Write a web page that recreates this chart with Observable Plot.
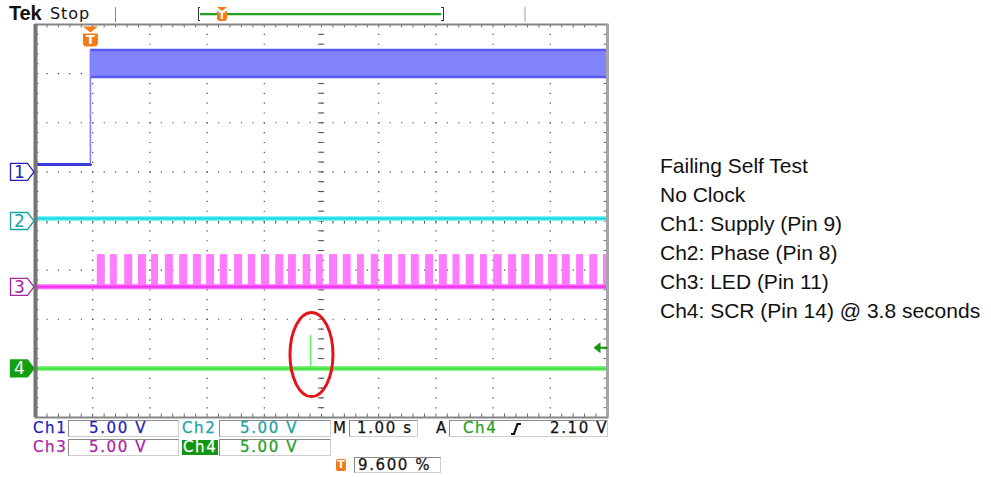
<!DOCTYPE html>
<html><head><meta charset="utf-8">
<script src="https://cdn.jsdelivr.net/npm/d3@7"></script>
<script src="https://cdn.jsdelivr.net/npm/@observablehq/plot@0.6"></script>
<style>
body{margin:0;background:#fff;}
#wrap{position:relative;width:991px;height:477px;overflow:hidden;background:#fff;}
#wrap > svg{position:absolute;left:0;top:0;}
.t{position:absolute;white-space:nowrap;font-family:"DejaVu Sans",sans-serif;}
.ro{font-size:15px;letter-spacing:1.6px;-webkit-text-stroke:0.25px currentColor;}
.box{position:absolute;box-sizing:border-box;border-top:1px solid #8a8a8a;border-left:1px solid #8a8a8a;border-bottom:1px solid #cdcdcd;border-right:1px solid #cdcdcd;}
.note{position:absolute;left:660px;font-family:"Liberation Sans",Arial,sans-serif;font-size:21px;color:#111;white-space:nowrap;line-height:28.8px;}
</style></head><body><div id="wrap"></div>
<script>
// ---------- data ----------
const voltsPerDiv = 5;          // all four channels
const secondsPerDiv = 1.00;
const triggerPercent = 9.6;     // trigger position in record
const triggerLevelV = 2.10;     // Ch4, rising
const channelNames = ["1", "2", "3", "4"];
const channelOffsetDiv = [1.0, 0, -1.34, -3.0];   // ground markers, in divisions from centre
const channelColors = ["#2222b4", "#1aa2a2", "#a824a8", "#12a012"];

// Ch1 supply: low before the step, noisy band after
const ch1StepTime = 0.96;       // s from left edge
const ch1LowV = 0.75;
const ch1HighMinV = 9.65;
const ch1HighMaxV = 12.4;
// Ch2 phase: flat
const ch2LevelV = 0.25;
// Ch3 LED pulse train
const ch3BaseV = 0;
const ch3HighV = 3.28;
const ch3PulseStart = [1.08,1.31,1.56,1.80,2.03,2.27,2.52,2.76,2.99,3.23,3.48,3.72,3.95,4.20,4.42,4.68,4.91,5.14,5.38,5.63,5.87,6.10,6.35,6.57,6.82,7.06,7.30,7.53,7.78,8.01,8.27,8.50,8.74,8.97,9.21,9.46,9.69,9.93];
const ch3PulseEnd   = [1.22,1.43,1.70,1.94,2.15,2.41,2.66,2.90,3.13,3.36,3.62,3.85,4.09,4.34,4.56,4.81,5.03,5.28,5.52,5.75,6.00,6.24,6.47,6.71,6.96,7.20,7.42,7.67,7.90,8.16,8.41,8.64,8.88,9.13,9.35,9.58,9.83,10.0];
// Ch4 SCR: flat with one short spike
const ch4BaseV = 0;
const ch4SpikeTime = 4.81;
const ch4SpikeV = 3.35;
// highlight ellipse round the spike (centre in s / divisions)
const highlightCenter = [4.825, -2.72];

// readout texts
const readoutScale = ["5.00 V", "5.00 V", "5.00 V", "5.00 V"];
const readoutTime = "1.00 s";
const readoutTrigger = ["Ch4", "2.10 V"];
const readoutTrigPos = "9.600 %";
const noteLines = ["Failing Self Test", "No Clock", "Ch1: Supply (Pin 9)", "Ch2: Phase (Pin 8)", "Ch3: LED (Pin 11)", "Ch4: SCR (Pin 14) @ 3.8 seconds"];

// ---------- helpers ----------
const yd = (ch, v) => channelOffsetDiv[ch] + v / voltsPerDiv;
const xMinor = d3.range(0, 10.0001, 0.2);
const yMinor = d3.range(-4, 4.0001, 0.2);
const W = 991, H = 477, mL = 35, mR = 384, mT = 24, mB = 60;
const pxX = (W - mL - mR) / 10 / 5, pxY = (H - mT - mB) / 8 / 5;

const tagSymbol = {draw(c){ c.moveTo(-25,-8.5); c.lineTo(-8,-8.5); c.lineTo(-1.5,0); c.lineTo(-8,8.5); c.lineTo(-25,8.5); c.closePath(); }};
const trigSymbol = {draw(c){ c.moveTo(-7.5,2); c.lineTo(7.5,2); c.lineTo(0,8); c.closePath();
  c.moveTo(-7.5,9); c.lineTo(7.5,9); c.lineTo(7.5,18); c.quadraticCurveTo(7.5,22,3.5,22); c.lineTo(-3.5,22); c.quadraticCurveTo(-7.5,22,-7.5,18); c.closePath(); }};
const levelSymbol = {draw(c){ c.moveTo(-14,0); c.lineTo(-7,-5.5); c.lineTo(-7,5.5); c.closePath(); c.moveTo(-7,-1); c.lineTo(0,-1); c.lineTo(0,1); c.lineTo(-7,1); c.closePath(); }};
const ellipseSymbol = (rx, ry) => ({draw(c){ const k = 0.5523;
  c.moveTo(rx,0); c.bezierCurveTo(rx,ry*k,rx*k,ry,0,ry); c.bezierCurveTo(-rx*k,ry,-rx,ry*k,-rx,0);
  c.bezierCurveTo(-rx,-ry*k,-rx*k,-ry,0,-ry); c.bezierCurveTo(rx*k,-ry,rx,-ry*k,rx,0); c.closePath(); }});

const pulses = ch3PulseStart.map((s, i) => ({t1: s, t2: ch3PulseEnd[i]}));
const ch1Band = [{t1: ch1StepTime, t2: 10, lo: yd(0, ch1HighMinV), hi: yd(0, ch1HighMaxV)}];
const trigTime = triggerPercent / 100 * 10 * secondsPerDiv;

const tagMarks = channelNames.flatMap((n, i) => [
  Plot.dot([0], {x: () => 0, y: () => channelOffsetDiv[i], symbol: tagSymbol,
    fill: i === 3 ? channelColors[i] : "white", stroke: channelColors[i], strokeWidth: 1.3}),
  Plot.text([n], {x: () => 0, y: () => channelOffsetDiv[i], text: d => d, dx: -16, dy: 0.5,
    fill: i === 3 ? "white" : channelColors[i], fontSize: 17, fontFamily: "DejaVu Sans"})
]);

const plot = Plot.plot({
  width: W, height: H, marginLeft: mL, marginRight: mR, marginTop: mT, marginBottom: mB,
  x: {domain: [0, 10], axis: null},
  y: {domain: [-4, 4], axis: null},
  style: {background: "transparent", overflow: "visible"},
  marks: [
    // graticule dots
    Plot.ruleX(d3.range(1, 10), {x: d => d, stroke: "#444", strokeWidth: 1.2, strokeDasharray: `1.2 ${pxY - 1.2}`}),
    Plot.ruleY(d3.range(-3, 4), {y: d => d, stroke: "#444", strokeWidth: 1.2, strokeDasharray: `1.2 ${pxX - 1.2}`}),
    // centre crosshair ticks
    Plot.ruleY(yMinor, {y: d => d, x1: 5 - 0.055, x2: 5 + 0.055, stroke: "#555", strokeWidth: 1}),
    Plot.ruleX(xMinor, {x: d => d, y1: -0.065, y2: 0.065, stroke: "#555", strokeWidth: 1}),
    // border ticks
    Plot.ruleX(xMinor, {x: d => d, y1: 4, y2: 3.93, stroke: "#666", strokeWidth: 1}),
    Plot.ruleX(xMinor, {x: d => d, y1: -4, y2: -3.93, stroke: "#666", strokeWidth: 1}),
    Plot.ruleY(yMinor, {y: d => d, x1: 0, x2: 0.06, stroke: "#666", strokeWidth: 1}),
    Plot.ruleY(yMinor, {y: d => d, x1: 10, x2: 9.94, stroke: "#666", strokeWidth: 1}),
    // Ch2
    Plot.ruleY([yd(1, ch2LevelV)], {y: d => d, stroke: "#7ef2f6", strokeWidth: 5}),
    Plot.ruleY([yd(1, ch2LevelV)], {y: d => d, stroke: "#14d6de", strokeWidth: 2}),
    // Ch3
    Plot.rect(pulses, {x1: "t1", x2: "t2", y1: () => yd(2, ch3BaseV), y2: () => yd(2, ch3HighV), fill: "#ff7cff", clip: true}),
    Plot.ruleY([yd(2, ch3BaseV)], {y: d => d, stroke: "#ff6cff", strokeWidth: 5}),
    Plot.ruleY([yd(2, ch3BaseV)], {y: d => d, stroke: "#f032f0", strokeWidth: 2}),
    // Ch4
    Plot.ruleY([yd(3, ch4BaseV)], {y: d => d, stroke: "#80f280", strokeWidth: 5}),
    Plot.ruleY([yd(3, ch4BaseV)], {y: d => d, stroke: "#3ee03e", strokeWidth: 2}),
    Plot.ruleX([ch4SpikeTime], {x: d => d, y1: yd(3, ch4BaseV), y2: yd(3, ch4SpikeV), stroke: "#5cf55c", strokeWidth: 1.3}),
    // Ch1
    Plot.rect(ch1Band, {x1: "t1", x2: "t2", y1: "lo", y2: "hi", fill: "#8383fb"}),
    Plot.ruleY([ch1Band[0].hi, ch1Band[0].lo], {y: d => d, x1: ch1StepTime, x2: 10, stroke: "#5858f4", strokeWidth: 2.5}),
    Plot.line([[0, yd(0, ch1LowV)], [ch1StepTime, yd(0, ch1LowV)]], {stroke: "#3a3ad8", strokeWidth: 3}),
    Plot.ruleX([ch1StepTime], {x: d => d, y1: yd(0, ch1LowV), y2: ch1Band[0].hi, stroke: "#7c7cff", strokeWidth: 1.5}),
    // frame
    Plot.frame({stroke: "#858585", strokeWidth: 2}),
    Plot.ruleX([0], {x: d => d, stroke: "#747474", strokeWidth: 4}),
    Plot.ruleX([10], {x: d => d, stroke: "#a6a6a6", strokeWidth: 3}),
    // channel ground markers
    ...tagMarks,
    // trigger position marker
    Plot.dot([trigTime], {x: d => d, y: () => 4, symbol: trigSymbol, fill: "#f47b16", stroke: "none"}),
    Plot.text(["T"], {x: () => trigTime, y: () => 4, text: d => d, dy: 15.5, fill: "white", fontWeight: "bold", fontSize: 13, fontFamily: "DejaVu Sans"}),
    // trigger level marker
    Plot.dot([triggerLevelV], {x: () => 10, y: d => yd(3, d), symbol: levelSymbol, fill: "#129812", stroke: "none"}),
    // highlight ellipse
    Plot.dot([highlightCenter], {x: d => d[0], y: d => d[1], symbol: ellipseSymbol(21.5, 42), fill: "none", stroke: "#e4141a", strokeWidth: 3})
  ]
});
const wrap = document.getElementById("wrap");
wrap.appendChild(plot);

// ---------- HTML readouts ----------
function el(css, text, cls) {
  const e = document.createElement("div");
  if (cls) e.className = cls;
  Object.assign(e.style, css);
  if (text != null) e.textContent = text;
  wrap.appendChild(e); return e;
}
const px = v => v + "px";
// top status bar
el({left: px(9), top: px(3), fontFamily: "'Liberation Sans',Arial,sans-serif", fontWeight: "bold", fontSize: "20px", lineHeight: "20px", color: "#111", letterSpacing: "-0.2px"}, "Tek", "t");
el({left: px(50), top: px(6), fontSize: "16px", lineHeight: "16px", color: "#111", letterSpacing: "0.9px"}, "Stop", "t");
el({position: "absolute", left: px(115), top: px(7), width: "1px", height: px(15), background: "#8a8a8a"});
el({position: "absolute", left: px(524), top: px(7), width: "2px", height: px(15), background: "#cfcfcf"});
// record bar
el({position: "absolute", left: px(198), top: px(7), width: px(2), height: px(14), borderLeft: "1.5px solid #333", borderTop: "1px solid #333", borderBottom: "1px solid #333", boxSizing: "border-box"});
el({position: "absolute", left: px(441), top: px(7), width: px(3), height: px(14), borderRight: "1.5px solid #333", borderTop: "1px solid #333", borderBottom: "1px solid #333", boxSizing: "border-box"});
el({position: "absolute", left: px(200), top: px(13), width: px(241), height: px(2), background: "#22a622"});
el({position: "absolute", left: px(200), top: px(15), width: px(241), height: px(1), background: "#bfe6bf"});
// small trigger icon in record bar
el({position: "absolute", left: px(217), top: px(7), width: 0, height: 0, borderLeft: "5px solid transparent", borderRight: "5px solid transparent", borderTop: "4px solid #f47b16"});
el({position: "absolute", left: px(217), top: px(11), width: px(10), height: px(10), background: "#f47b16", borderRadius: "0 0 3px 3px", color: "white", fontFamily: "DejaVu Sans", fontWeight: "bold", fontSize: "10px", lineHeight: "10px", textAlign: "center"}, "T");

// bottom readouts
const row1 = 420, row2 = 439, rh = 17;
function label(x, y, text, color, extra) { el(Object.assign({left: px(x), top: px(y), lineHeight: px(rh), color}, extra || {}), text, "t ro"); }
function box(x, y, w, h) { el({left: px(x), top: px(y), width: px(w), height: px(h)}, null, "box"); }
box(68, row1, 111, rh); box(219, row1, 112, rh); box(349, row1, 69, rh); box(449, row1, 159, rh);
box(68, row2, 111, rh); box(219, row2, 112, rh);
label(33, row1, "Ch1", channelColors[0]);
label(89, row1, readoutScale[0], channelColors[0]);
label(182, row1, "Ch2", channelColors[1]);
label(240, row1, readoutScale[1], channelColors[1]);
label(333, row1, "M", "#111");
label(357, row1, readoutTime, "#111");
label(436, row1, "A", "#111");
label(463, row1, readoutTrigger[0], "#1ea01e");
label(550, row1, readoutTrigger[1], "#111");
label(33, row2, "Ch3", channelColors[2]);
label(89, row2, readoutScale[2], channelColors[2]);
el({position: "absolute", left: px(182), top: px(row2 + 1), width: px(36), height: px(rh - 2), background: "#129612"});
label(183, row2, "Ch4", "white");
label(240, row2, readoutScale[3], "#1ea01e");
// slope symbol
const slope = document.createElementNS("http://www.w3.org/2000/svg", "svg");
slope.setAttribute("width", "12"); slope.setAttribute("height", "14");
Object.assign(slope.style, {position: "absolute", left: "510px", top: "422px"});
slope.innerHTML = '<polyline points="1,12 4,12 7.5,2 11,2" fill="none" stroke="#111" stroke-width="2.2"/>';
wrap.appendChild(slope);
// trigger position readout
el({position: "absolute", left: px(336), top: px(459), width: px(10), height: px(12), background: "#f47b16", borderRadius: "2px", color: "white", fontFamily: "DejaVu Sans", fontWeight: "bold", fontSize: "11px", lineHeight: "12px", textAlign: "center"}, "T");
box(354, 457, 87, 16);
el({left: px(358), top: px(457), lineHeight: px(16), color: "#111"}, readoutTrigPos, "t ro");

// notes on the right
noteLines.forEach((s, i) => el({top: px(152 + i * 28.9)}, s, "note"));
</script></body></html>
